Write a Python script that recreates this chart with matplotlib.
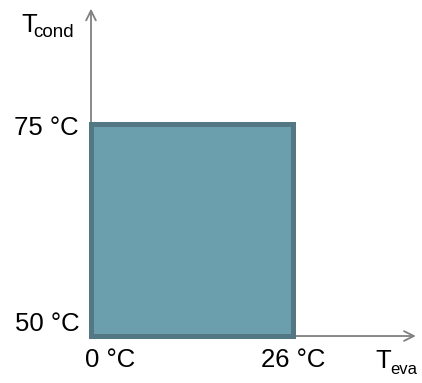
import matplotlib.pyplot as plt
from matplotlib.patches import Rectangle

plt.rcParams['font.family'] = ['Liberation Sans', 'DejaVu Sans']

# operating range of evaporator / condenser temperatures
t_eva = [0, 26]
t_cond = [50, 75]
eva_labels = ['0 °C', '26 °C']
cond_labels = ['50 °C', '75 °C']

fig = plt.figure(figsize=(4.22, 3.83), dpi=100)
ax = fig.add_axes([0, 0, 1, 1])
ax.set_xlim(-11.71, 42.6)
ax.set_ylim(44.46, 89.62)
ax.axis('off')

axis_col = '#808080'
ax.annotate('', xy=(41.8, t_cond[0]), xytext=(t_eva[0], t_cond[0]),
            arrowprops=dict(arrowstyle='->,head_length=0.7,head_width=0.35',
                            color=axis_col, lw=1.3, shrinkA=0, shrinkB=0))
ax.annotate('', xy=(t_eva[0], 88.6), xytext=(t_eva[0], t_cond[0]),
            arrowprops=dict(arrowstyle='->,head_length=0.7,head_width=0.35',
                            color=axis_col, lw=1.3, shrinkA=0, shrinkB=0))

ax.add_patch(Rectangle((t_eva[0], t_cond[0]), t_eva[1] - t_eva[0], t_cond[1] - t_cond[0],
                       facecolor='#6c9fad', edgecolor='#547883', lw=3.6, zorder=3))

fs = 18.5
# tick labels
ax.text(t_eva[0] - 0.8, 47.2, eva_labels[0], fontsize=fs, ha='left', va='center')
ax.text(t_eva[1], 47.2, eva_labels[1], fontsize=fs, ha='center', va='center')
ax.text(-1.4, t_cond[0] + 1.4, cond_labels[0], fontsize=fs, ha='right', va='center')
ax.text(-1.6, t_cond[1] - 0.5, cond_labels[1], fontsize=fs, ha='right', va='center')

# axis names with subscripts
ax.text(-9.0, 85.85, 'T', fontsize=fs, ha='left', va='baseline')
ax.text(-7.47, 85.26, 'cond', fontsize=13.5, ha='left', va='baseline')
ax.text(36.55, 46.23, 'T', fontsize=fs, ha='left', va='baseline')
ax.text(38.5, 45.52, 'eva', fontsize=12, ha='left', va='baseline')

fig.savefig('out.png', dpi=100)
